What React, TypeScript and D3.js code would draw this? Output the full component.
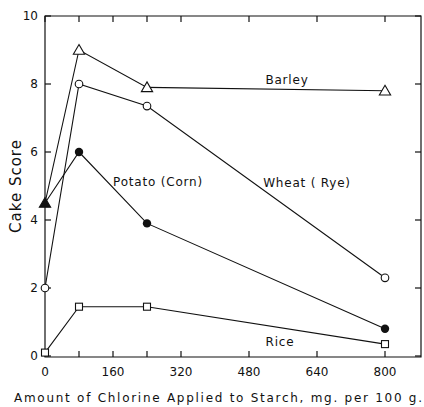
import React from 'react';
import * as d3 from 'd3';

const doses = [0, 80, 240, 800];
const barley = [4.5, 9.0, 7.9, 7.8];
const wheat = [2.0, 8.0, 7.35, 2.3];
const potato = [4.5, 6.0, 3.9, 0.8];
const rice = [0.1, 1.45, 1.45, 0.35];

const xLabels = [0, 160, 320, 480, 640, 800];
const xTicks = [0, 80, 160, 240, 320, 480, 640, 800];
const yTicks = [0, 2, 4, 6, 8, 10];

const W = 424;
const H = 407;
const font = '"DejaVu Sans", sans-serif';

const App = () => {
  const x = d3.scaleLinear().domain([0, 800]).range([45, 385]);
  const y = d3.scaleLinear().domain([0, 10]).range([356, 16]);
  const left = 45;
  const right = 421;
  const top = 16;
  const bottom = 357;

  const line = d3.line<number>().x((d, i) => x(doses[i])).y((d) => y(d));

  const tri = d3.symbol().type(d3.symbolTriangle).size(55)();
  const sq = 7;

  return (
    <svg width={W} height={H} style={{ position: 'absolute', left: 0, top: 0, background: '#fff' }}>
      <g fill="none" stroke="#111" strokeWidth={1.2}>
        <path d={`M${left},${top}H${right}V${bottom}H${left}Z`} />
        {xTicks.map((t) => (
          <g key={'xt' + t}>
            <line x1={x(t)} x2={x(t)} y1={bottom} y2={bottom - 6} />
            <line x1={x(t)} x2={x(t)} y1={top} y2={top + 6} />
          </g>
        ))}
        {yTicks.map((t) => (
          <g key={'yt' + t}>
            <line x1={left} x2={left + 6} y1={y(t)} y2={y(t)} />
            <line x1={right} x2={right - 6} y1={y(t)} y2={y(t)} />
          </g>
        ))}
      </g>

      <g fill="none" stroke="#111" strokeWidth={1.1}>
        <path d={line(barley) || ''} />
        <path d={line(wheat) || ''} />
        <path d={line(potato) || ''} />
        <path d={line(rice) || ''} />
      </g>

      {/* markers */}
      {barley.map((v, i) =>
        i === 0 ? null : (
          <path key={'b' + i} d={tri || ''} transform={`translate(${x(doses[i])},${y(v) + 1})`} fill="#fff" stroke="#111" strokeWidth={1.1} />
        )
      )}
      {wheat.map((v, i) => (
        <circle key={'w' + i} cx={x(doses[i])} cy={y(v)} r={3.8} fill="#fff" stroke="#111" strokeWidth={1.1} />
      ))}
      {potato.map((v, i) =>
        i === 0 ? (
          <path key={'p' + i} d={tri || ''} transform={`translate(${x(doses[i])},${y(v) + 1})`} fill="#111" stroke="#111" strokeWidth={1.1} />
        ) : (
          <circle key={'p' + i} cx={x(doses[i])} cy={y(v)} r={4.2} fill="#111" />
        )
      )}
      {rice.map((v, i) => (
        <rect key={'r' + i} x={x(doses[i]) - sq / 2} y={y(v) - sq / 2} width={sq} height={sq} fill="#fff" stroke="#111" strokeWidth={1.1} />
      ))}

      <g fontFamily={font} fontSize={12} fill="#111">
        {xLabels.map((t) => (
          <text key={'xl' + t} x={x(t)} y={376} textAnchor="middle">{t}</text>
        ))}
        {yTicks.map((t) => (
          <text key={'yl' + t} x={38} y={y(t) + 4} textAnchor="end">{t}</text>
        ))}
        <text x={287} y={84} textAnchor="middle" letterSpacing={0.8}>Barley</text>
        <text x={307} y={187} textAnchor="middle" letterSpacing={0.8}>Wheat ( Rye)</text>
        <text x={158} y={186} textAnchor="middle" letterSpacing={0.8}>Potato (Corn)</text>
        <text x={280} y={346} textAnchor="middle" letterSpacing={0.8}>Rice</text>
        <text x={14} y={402} textLength={408} lengthAdjust="spacing">Amount of Chlorine Applied to Starch, mg. per 100 g.</text>
        <text transform="translate(21,186) rotate(-90)" textAnchor="middle" fontSize={15} letterSpacing={1}>Cake Score</text>
      </g>
    </svg>
  );
};

export default App;
